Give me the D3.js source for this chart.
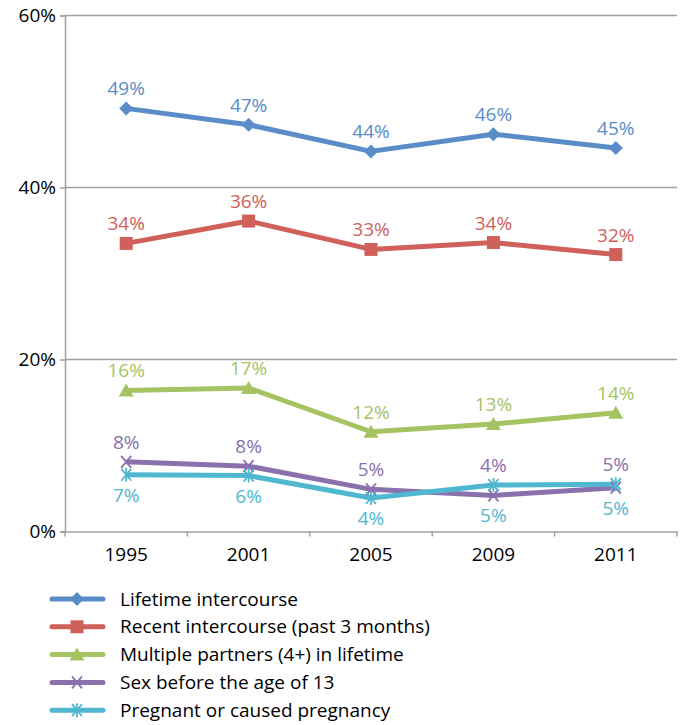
<!DOCTYPE html>
<html><head><meta charset="utf-8">
<script src="https://cdn.jsdelivr.net/npm/d3@7"></script>
<style>body{margin:0;background:#fff}svg text{font-family:"Open Sans",sans-serif}</style>
</head><body><svg id="c" width="683" height="725"></svg>
<script>
const years = ["1995","2001","2005","2009","2011"];
const seriesNames = ["Lifetime intercourse","Recent intercourse (past 3 months)","Multiple partners (4+) in lifetime","Sex before the age of 13","Pregnant or caused pregnancy"];
const lifetime = [49.2,47.3,44.2,46.2,44.6];
const recent = [33.5,36.1,32.8,33.6,32.2];
const multiple = [16.4,16.7,11.6,12.5,13.8];
const before13 = [8.1,7.6,4.9,4.2,5.1];
const pregnant = [6.6,6.5,3.9,5.4,5.5];
const lifetimeLabels = ["49%","47%","44%","46%","45%"];
const recentLabels = ["34%","36%","33%","34%","32%"];
const multipleLabels = ["16%","17%","12%","13%","14%"];
const before13Labels = ["8%","8%","5%","4%","5%"];
const pregnantLabels = ["7%","6%","4%","5%","5%"];
const yTicks = [0,20,40,60];

const colors = ["#5a8cc8","#cf605a","#a6c364","#8b70ae","#4fb8d0"];
const symbols = ["diamond","square","triangle","cross","star"];
const series = [
  {name:seriesNames[0],values:lifetime,labels:lifetimeLabels},
  {name:seriesNames[1],values:recent,labels:recentLabels},
  {name:seriesNames[2],values:multiple,labels:multipleLabels},
  {name:seriesNames[3],values:before13,labels:before13Labels},
  {name:seriesNames[4],values:pregnant,labels:pregnantLabels}
];

const FS = 19;
const svg = d3.select("#c");
const L=65,R=677,T=15.5,B=531.5;
const x = d3.scaleBand().domain(years).range([L,R]);
const y = d3.scaleLinear().domain([0,60]).range([B,T]);
const grid="#a0a0a0";

svg.append("g").selectAll("line").data(yTicks.filter(d=>d>0)).join("line")
  .attr("x1",L).attr("x2",R).attr("y1",d=>y(d)).attr("y2",d=>y(d))
  .attr("stroke",grid).attr("stroke-width",1.5);

const ya = svg.append("g").attr("transform",`translate(${L},0)`)
  .call(d3.axisLeft(y).tickValues(yTicks).tickFormat(d=>d+"%").tickSize(5).tickPadding(4));
ya.select(".domain").attr("stroke",grid).attr("stroke-width",1.5);
ya.selectAll(".tick line").attr("stroke",grid).attr("stroke-width",1.5);
ya.selectAll("text").attr("font-size",FS).attr("fill","#000");

const xa = svg.append("g").attr("transform",`translate(0,${B})`)
  .call(d3.axisBottom(x).tickSize(0).tickPadding(16));
xa.select(".domain").attr("stroke",grid).attr("stroke-width",1.5);
xa.selectAll("text").attr("font-size",FS).attr("fill","#000");
xa.selectAll("line.bt").data(d3.range(years.length+1)).join("line")
  .attr("x1",i=>L+i*x.step()).attr("x2",i=>L+i*x.step())
  .attr("y1",0).attr("y2",5).attr("stroke",grid).attr("stroke-width",1.5);

function marker(g,type,color,cx,cy){
  if(type==="diamond"){
    g.append("path").attr("d",`M${cx},${cy-7}L${cx+7},${cy}L${cx},${cy+7}L${cx-7},${cy}Z`).attr("fill",color);
  } else if(type==="square"){
    g.append("rect").attr("x",cx-6.5).attr("y",cy-6.5).attr("width",13).attr("height",13).attr("fill",color);
  } else if(type==="triangle"){
    g.append("path").attr("d",`M${cx},${cy-7}L${cx+7.5},${cy+6}L${cx-7.5},${cy+6}Z`).attr("fill",color);
  } else if(type==="cross"){
    g.append("path").attr("d",`M${cx-5},${cy-6}L${cx+5},${cy+6}M${cx+5},${cy-6}L${cx-5},${cy+6}`).attr("stroke",color).attr("stroke-width",1.8);
  } else {
    g.append("path").attr("d",`M${cx-5},${cy-6}L${cx+5},${cy+6}M${cx+5},${cy-6}L${cx-5},${cy+6}M${cx},${cy-7}L${cx},${cy+7}`).attr("stroke",color).attr("stroke-width",1.8);
  }
}

const line = d3.line().x((d,i)=>x(years[i])+x.bandwidth()/2).y(d=>y(d));
const plot = svg.append("g");
series.forEach((s,k)=>{
  plot.append("path").datum(s.values).attr("d",line).attr("fill","none")
    .attr("stroke",colors[k]).attr("stroke-width",5).attr("stroke-linejoin","round");
});
series.forEach((s,k)=>{
  s.values.forEach((v,i)=>marker(plot,symbols[k],colors[k],x(years[i])+x.bandwidth()/2,y(v)));
});

const lab = svg.append("g").attr("font-size",FS).attr("text-anchor","middle");
series.forEach((s,k)=>{
  s.values.forEach((v,i)=>{
    const cx = x(years[i])+x.bandwidth()/2;
    let ty;
    if(k<3) ty = y(v)-13;
    else if(k===3) ty = Math.min(y(before13[i]),y(pregnant[i]))-13;
    else ty = Math.max(y(before13[i]),y(pregnant[i]))+27;
    lab.append("text").attr("x",cx).attr("y",ty).attr("fill",colors[k]).text(s.labels[i]);
  });
});

const lg = svg.append("g");
series.forEach((s,k)=>{
  const ly = 599 + k*27.8;
  lg.append("line").attr("x1",52).attr("x2",103).attr("y1",ly).attr("y2",ly)
    .attr("stroke",colors[k]).attr("stroke-width",5).attr("stroke-linecap","round");
  marker(lg,symbols[k],colors[k],77,ly);
  lg.append("text").attr("x",120).attr("y",ly).attr("dy","0.35em").attr("font-size",FS).attr("fill","#000").text(s.name);
});
</script></body></html>
